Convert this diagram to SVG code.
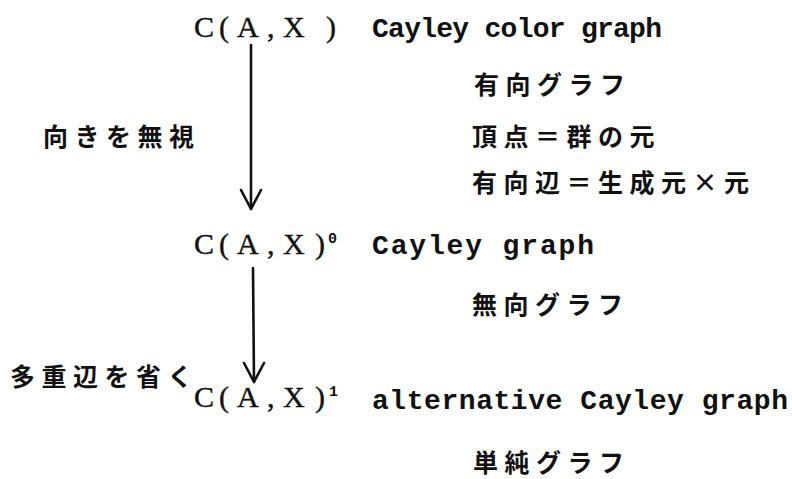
<svg xmlns="http://www.w3.org/2000/svg" width="792" height="479" viewBox="0 0 792 479">
<defs>
<style>
.cax{font-family:"Liberation Serif","DejaVu Serif",serif;font-size:30px;fill:#111;stroke:#111;stroke-width:0.4px;}
.sup{font-family:"Liberation Mono","DejaVu Sans Mono",monospace;font-size:15px;font-weight:bold;fill:#111;}
.en{font-family:"Liberation Mono","DejaVu Sans Mono",monospace;font-size:28px;font-weight:bold;fill:#111;}
.jp{font-family:"Noto Sans CJK JP","Noto Sans",sans-serif;font-size:25px;font-weight:bold;fill:#111;letter-spacing:6.5px;}
.conn{stroke:#111;stroke-width:2.6;fill:none;stroke-linecap:round;stroke-linejoin:round;}
</style>
</defs>
<rect width="792" height="479" fill="#fff"/>
<g id="connectors">
<path class="conn" d="M251,45 L251,209"/>
<path class="conn" d="M241,190 L251,209 L261,190"/>
<path class="conn" d="M253,268 L254,382"/>
<path class="conn" d="M244,363 L254,382 L264,363"/>
</g>
<g id="node-cax">
<text class="cax" x="194 219 237 267 283 326" y="37">C(A,X)</text>
<text class="en" x="372" y="37" textLength="290" lengthAdjust="spacing">Cayley color graph</text>
<text class="jp" x="474" y="94">有向グラフ</text>
<text class="jp" x="472" y="146">頂点＝群の元</text>
<text class="jp" x="472" y="192">有向辺＝生成元×元</text>
</g>
<g id="label-ignore-direction">
<text class="jp" x="43" y="146">向きを無視</text>
</g>
<g id="node-cax0">
<text class="cax" x="194 219 237 267 283 315" y="254">C(A,X)</text>
<text class="sup" x="328" y="243">0</text>
<text class="en" x="372" y="254" textLength="222" lengthAdjust="spacing">Cayley graph</text>
<text class="jp" x="472" y="314">無向グラフ</text>
</g>
<g id="label-remove-multi">
<text class="jp" x="10" y="386">多重辺を省く</text>
</g>
<g id="node-cax1">
<text class="cax" x="194 219 237 267 283 315" y="407">C(A,X)</text>
<text class="sup" x="329" y="396">1</text>
<text class="en" x="372" y="409" textLength="416" lengthAdjust="spacing">alternative Cayley graph</text>
<text class="jp" x="473" y="472">単純グラフ</text>
</g>
</svg>
